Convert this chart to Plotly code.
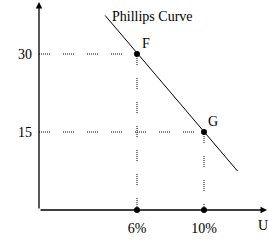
import plotly.graph_objects as go

# Data
curve_u = [4.1, 12.0]          # Phillips curve endpoints (unemployment, %)
curve_infl = [37.4, 7.5]       # inflation at endpoints
point_names = ["F", "G"]
point_u = [6, 10]
point_infl = [30, 15]
y_tick_vals = [15, 30]
y_tick_text = ["15", "30"]
x_tick_vals = [6, 10]
x_tick_text = ["6%", "10%"]
curve_label = "Phillips Curve"
x_axis_label = "U"
x_axis_label_pos = 13.5

FONT = "Liberation Serif"
TF = dict(family=FONT, size=14, color="black")
DOT = "1px,1px,1px,1px,1px,1px,1px,1px,1px,1px,1px,13px"

XR = [0.15, 0.15 + 230 / 16.75]
YR = [0, 210 / 5.2]

fig = go.Figure()

# dotted guide lines
for u, v in zip(point_u, point_infl):
    fig.add_trace(go.Scatter(x=[XR[0], u], y=[v, v], mode="lines",
                             line=dict(color="black", width=1, dash=DOT),
                             hoverinfo="skip", showlegend=False))
    fig.add_trace(go.Scatter(x=[u, u], y=[v, 0], mode="lines",
                             line=dict(color="black", width=1, dash=DOT),
                             hoverinfo="skip", showlegend=False))

# Phillips curve
fig.add_trace(go.Scatter(x=curve_u, y=curve_infl, mode="lines",
                         line=dict(color="black", width=1), showlegend=False))

# points
fig.add_trace(go.Scatter(x=point_u, y=point_infl, mode="markers",
                         marker=dict(color="black", size=6), showlegend=False))
fig.add_trace(go.Scatter(x=point_u, y=[0] * len(point_u), mode="markers",
                         marker=dict(color="black", size=6), showlegend=False,
                         cliponaxis=False))

annotations = []
# axes arrows
annotations.append(dict(x=XR[0], y=40.0, ax=XR[0], ay=0, xref="x", yref="y",
                        axref="x", ayref="y", text="", showarrow=True,
                        arrowhead=2, arrowsize=1, arrowwidth=1.3, arrowcolor="black"))
annotations.append(dict(x=XR[0] + 228 / 16.75, y=0, ax=XR[0], ay=0, xref="x", yref="y",
                        axref="x", ayref="y", text="", showarrow=True,
                        arrowhead=2, arrowsize=1, arrowwidth=1.3, arrowcolor="black"))
# curve label
annotations.append(dict(x=curve_u[0], y=curve_infl[0], xref="x", yref="y",
                        text=curve_label, showarrow=False, xanchor="left",
                        yanchor="middle", xshift=5, yshift=-1, font=TF))
# point labels
for name, u, v in zip(point_names, point_u, point_infl):
    annotations.append(dict(x=u, y=v, xref="x", yref="y", text=name,
                            showarrow=False, xanchor="center", yanchor="middle",
                            xshift=9, yshift=11, font=TF))
# U label
annotations.append(dict(x=x_axis_label_pos, y=0, xref="x", yref="y",
                        text=x_axis_label, showarrow=False, xanchor="center",
                        yanchor="middle", yshift=-15, font=TF))

fig.update_layout(
    width=269, height=250,
    margin=dict(l=39, r=0, t=0, b=40),
    paper_bgcolor="white", plot_bgcolor="white",
    font=TF,
    annotations=annotations,
    xaxis=dict(range=XR, showgrid=False, zeroline=False, showline=False,
               tickvals=x_tick_vals, ticktext=x_tick_text, ticks="",
               ticklabelstandoff=8, tickfont=TF),
    yaxis=dict(range=YR, showgrid=False, zeroline=False, showline=False,
               tickvals=y_tick_vals, ticktext=y_tick_text, ticks="",
               ticklabelstandoff=6, tickfont=TF),
)

fig.write_html("out.html")
